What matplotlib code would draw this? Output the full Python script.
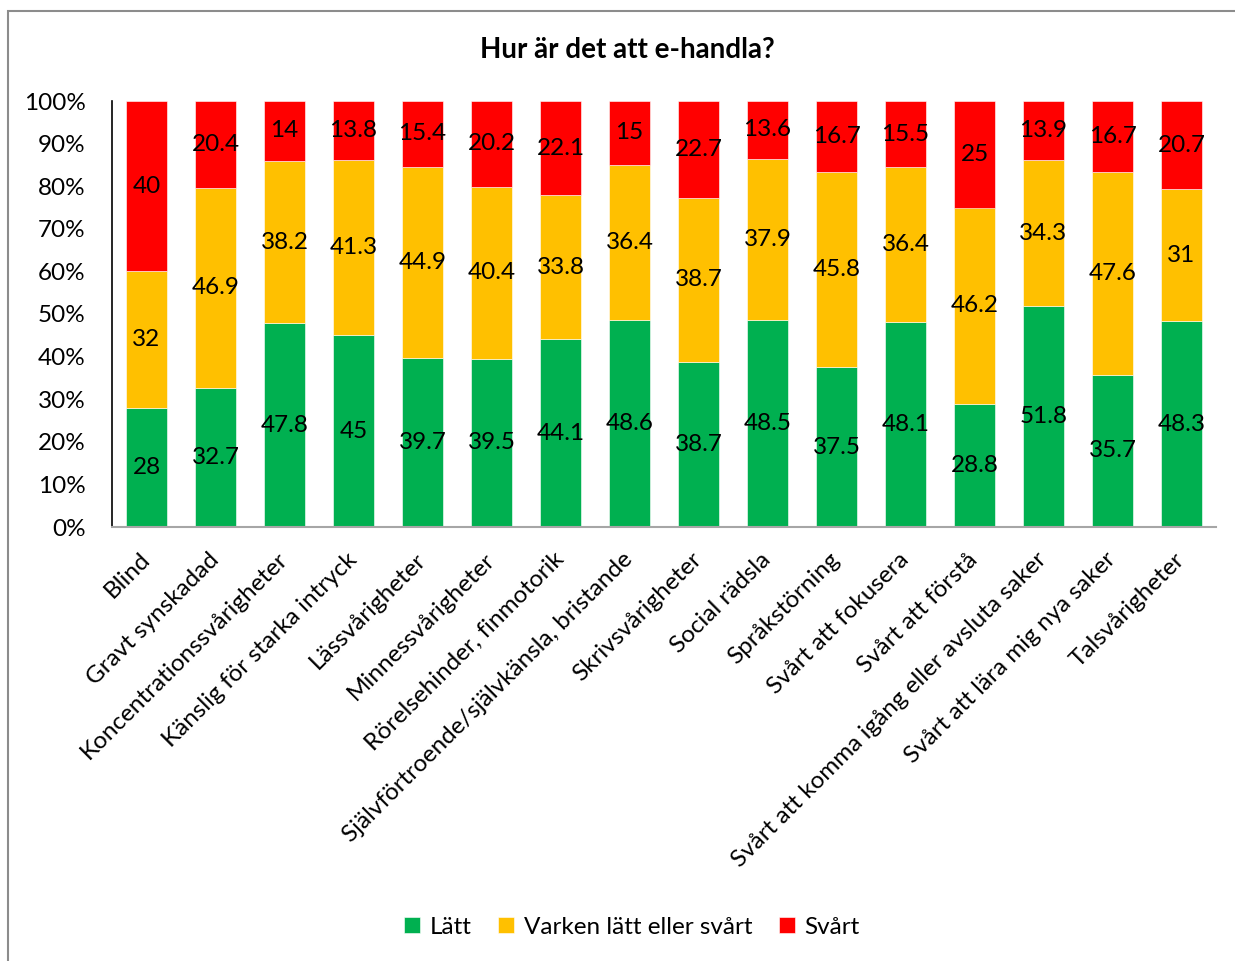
import matplotlib.pyplot as plt
from matplotlib.patches import Rectangle
import numpy as np

plt.rcParams['font.family'] = ['Lato', 'DejaVu Sans']

categories = ['Blind', 'Gravt synskadad', 'Koncentrationssvårigheter',
              'Känslig för starka intryck', 'Lässvårigheter', 'Minnessvårigheter',
              'Rörelsehinder, finmotorik', 'Självförtroende/självkänsla, bristande',
              'Skrivsvårigheter', 'Social rädsla', 'Språkstörning',
              'Svårt att fokusera', 'Svårt att förstå',
              'Svårt att komma igång eller avsluta saker',
              'Svårt att lära mig nya saker', 'Talsvårigheter']
latt = [28, 32.7, 47.8, 45, 39.7, 39.5, 44.1, 48.6, 38.7, 48.5, 37.5, 48.1, 28.8, 51.8, 35.7, 48.3]
varken = [32, 46.9, 38.2, 41.3, 44.9, 40.4, 33.8, 36.4, 38.7, 37.9, 45.8, 36.4, 46.2, 34.3, 47.6, 31]
svart = [40, 20.4, 14, 13.8, 15.4, 20.2, 22.1, 15, 22.7, 13.6, 16.7, 15.5, 25, 13.9, 16.7, 20.7]

series = [('Lätt', latt, '#00B050'),
          ('Varken lätt eller svårt', varken, '#FFC000'),
          ('Svårt', svart, '#FF0000')]

fs = 17.5

fig = plt.figure(figsize=(12.35, 9.61), dpi=100)
ax = fig.add_axes([112 / 1235, 1 - 527 / 961, 1104 / 1235, 426 / 961])

x = np.arange(len(categories))
totals = np.array(latt) + np.array(varken) + np.array(svart)
bottom = np.zeros(len(categories))
for name, vals, color in series:
    frac = np.array(vals) / totals
    ax.bar(x, frac, 0.58, bottom=bottom, color=color, edgecolor='white',
           linewidth=0.4, label=name)
    for xi, b, f, v in zip(x, bottom, frac, vals):
        ax.text(xi, b + f / 2, f'{v:g}', ha='center', va='center', fontsize=fs)
    bottom += frac

ax.set_xlim(-0.5, len(categories) - 0.5)
ax.set_ylim(0, 1)
ax.set_yticks(np.arange(0, 1.01, 0.1))
ax.set_yticklabels([f'{int(round(t * 100))}%' for t in np.arange(0, 1.01, 0.1)])
ax.set_xticks(x)
ax.set_xticklabels(categories, rotation=45, ha='right', va='center',
                   rotation_mode='anchor')
ax.tick_params(axis='y', length=0, pad=19, labelsize=fs)
ax.tick_params(axis='x', length=0, pad=21, labelsize=fs)

for s in ['top', 'right']:
    ax.spines[s].set_visible(False)
ax.spines['left'].set_color('#000000')
ax.spines['left'].set_linewidth(1.2)
ax.spines['bottom'].set_color('#A6A6A6')
ax.spines['bottom'].set_linewidth(1.5)

fig.text(627 / 1235, 1 - 50 / 961, 'Hur är det att e-handla?', ha='center',
         va='center', fontsize=20, fontweight='bold')

fig.legend(loc='center', bbox_to_anchor=(632 / 1235, 1 - 927 / 961), ncol=3,
           frameon=False, fontsize=fs, handlelength=0.65, handleheight=0.65,
           handletextpad=0.4, columnspacing=1.1)

# outer chart frame
fig.patches.append(Rectangle((7.5 / 1235, -0.1), 1.2, 1.1 - 11.5 / 961,
                             transform=fig.transFigure, fill=False,
                             edgecolor='#8C8C8C', linewidth=1.5))

fig.savefig('out.png', dpi=100)
